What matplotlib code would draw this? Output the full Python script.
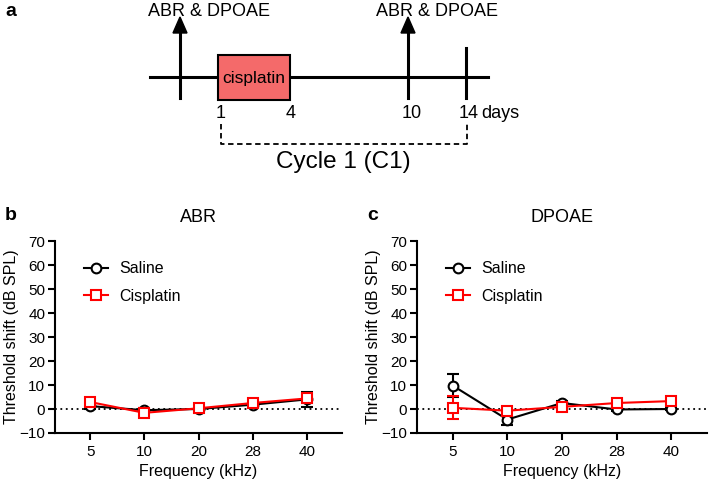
import numpy as np
import matplotlib.pyplot as plt
from matplotlib.patches import Rectangle, FancyArrow

plt.rcParams['font.family'] = ['Liberation Sans', 'DejaVu Sans']

freqs = ["5", "10", "20", "28", "40"]

abr_saline = [1.2, -0.5, 0.0, 1.8, 4.0]
abr_saline_err = [1.0, 0.8, 0.8, 1.0, 3.0]
abr_cis = [2.9, -1.6, 0.3, 2.5, 4.4]
abr_cis_err = [0.8, 0.8, 0.6, 0.8, 1.5]

dp_saline = [9.8, -4.4, 2.5, -0.2, 0.0]
dp_saline_err = [4.8, 2.4, 0.8, 0.5, 0.5]
dp_cis = [0.5, -0.7, 0.9, 2.5, 3.3]
dp_cis_err = [4.8, 1.0, 0.8, 0.8, 0.8]

fig = plt.figure(figsize=(7.09, 4.82), dpi=100)

# panel a: timeline drawn in pixel coords
axa = fig.add_axes([0, 0, 1, 1])
axa.set_xlim(0, 709)
axa.set_ylim(482, 0)
axa.axis("off")
axa.patch.set_alpha(0)

lw = 2.2
axa.plot([150, 488], [77, 77], color="black", lw=lw, zorder=1)
axa.add_patch(Rectangle((218, 55), 72, 45, facecolor="#f46a6a", edgecolor="black", lw=1.5, zorder=2))
axa.text(254, 78, "cisplatin", ha="center", va="center", fontsize=12.5)
for xa in [180, 408]:
    axa.plot([xa, xa], [98, 32], color="black", lw=lw)
    axa.add_patch(FancyArrow(xa, 34, 0, -1, width=0, head_width=14, head_length=16,
                             length_includes_head=False, color="black"))
    axa.text(xa - 32, 11, "ABR & DPOAE", ha="left", va="center", fontsize=13)
axa.plot([466, 466], [48, 98], color="black", lw=lw)

for xd, lab in [(221, "1"), (291, "4"), (412, "10"), (469, "14")]:
    axa.text(xd, 113, lab, ha="center", va="center", fontsize=13)
axa.text(481, 113, "days", ha="left", va="center", fontsize=13)
axa.plot([221, 221, 467, 467], [124, 144, 144, 124], color="black", lw=1.3, ls=(0, (3, 2)))
axa.text(343, 162, "Cycle 1 (C1)", ha="center", va="center", fontsize=17.5)

fig.text(5, 482 - 12, "a", fontsize=14, fontweight="bold", va="center", transform=None)


def panel(rect, title, sal, sal_e, cis, cis_e):
    ax = fig.add_axes(rect)
    x = np.arange(len(freqs))
    ax.axhline(0, color="black", lw=1.3, ls=(0, (1, 2)), zorder=1)
    ax.errorbar(x, sal, yerr=sal_e, color="black", marker="o", ms=7, mfc="white",
                mec="black", mew=1.5, lw=1.5, capsize=4, capthick=1.5, elinewidth=1.5,
                label="Saline", zorder=3)
    ax.errorbar(x, cis, yerr=cis_e, color="red", marker="s", ms=7, mfc="white",
                mec="red", mew=1.5, lw=1.5, capsize=4, capthick=1.5, elinewidth=1.5,
                label="Cisplatin", zorder=4)
    ax.set_xlim(-0.65, 4.65)
    ax.set_ylim(-10, 70)
    ax.set_yticks(range(-10, 71, 10))
    ax.set_xticks(x)
    ax.set_xticklabels(freqs)
    for s in ["top", "right"]:
        ax.spines[s].set_visible(False)
    for s in ["left", "bottom"]:
        ax.spines[s].set_linewidth(1.5)
    ax.tick_params(width=1.5, length=5, labelsize=11)
    ax.tick_params(axis="y", pad=2)
    ax.set_xlabel("Frequency (kHz)", fontsize=11.5)
    ax.set_ylabel("Threshold shift (dB SPL)", fontsize=11.5, labelpad=0)
    ax.set_title(title, fontsize=13, pad=14)
    handles, labels = ax.get_legend_handles_labels()
    hs = [h[0] for h in handles]
    ax.legend(hs, labels, loc="upper left", bbox_to_anchor=(0.05, 0.97), frameon=False,
              fontsize=11.5, handlelength=1.5, handletextpad=0.7, labelspacing=0.8)
    return ax


panel([55 / 709, 0.1017, 287 / 709, 0.398], "ABR", abr_saline, abr_saline_err, abr_cis, abr_cis_err)
panel([417 / 709, 0.1017, 290 / 709, 0.398], "DPOAE", dp_saline, dp_saline_err, dp_cis, dp_cis_err)

fig.text(5, 482 - 215, "b", fontsize=14, fontweight="bold", va="center", transform=None)
fig.text(367, 482 - 215, "c", fontsize=14, fontweight="bold", va="center", transform=None)

fig.savefig("out.png", dpi=100)
